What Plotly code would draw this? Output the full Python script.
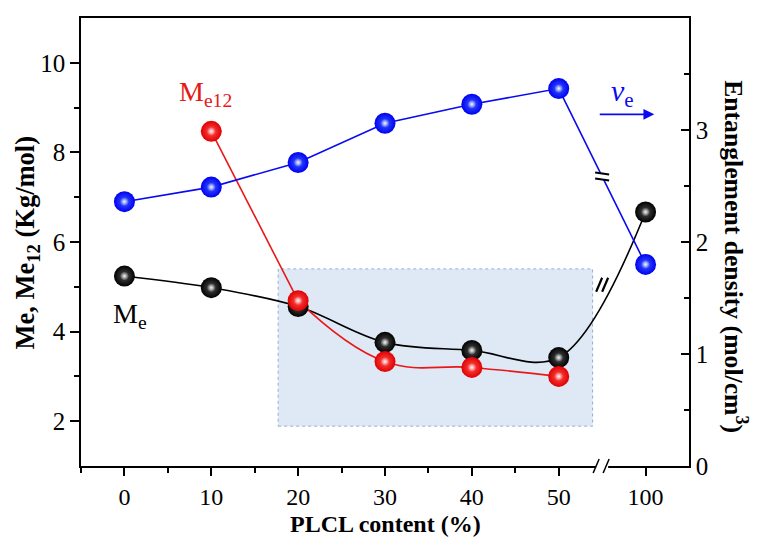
import plotly.graph_objects as go

# ---------------- data ----------------
categories = ["0", "10", "20", "30", "40", "50", "100"]
positions = [0, 1, 2, 3, 4, 5, 6]
me = [5.24, 4.98, 4.56, 3.76, 3.58, 3.42, 6.67]          # Me (Kg/mol), left axis
me12_pos = [1, 2, 3, 4, 5]
me12 = [8.47, 4.69, 3.33, 3.20, 3.00]                    # Me12 (Kg/mol), left axis
nu = [2.36, 2.49, 2.71, 3.06, 3.23, 3.37, 1.80]          # entanglement density, right axis
left_ticks = [2, 4, 6, 8, 10]
right_ticks = [0, 1, 2, 3, 4]

FONT = "Liberation Serif"
BLUE = "#0a0af0"
RED = "#e81818"
BLACK = "#000000"

fig = go.Figure()

# lines
fig.add_trace(go.Scatter(x=positions, y=me, mode="lines",
                         line=dict(color=BLACK, width=1.6, shape="spline", smoothing=1.0),
                         hoverinfo="skip"))
fig.add_trace(go.Scatter(x=me12_pos[:2], y=me12[:2], mode="lines",
                         line=dict(color=RED, width=1.6), hoverinfo="skip"))
fig.add_trace(go.Scatter(x=me12_pos[1:], y=me12[1:], mode="lines",
                         line=dict(color=RED, width=1.6, shape="spline", smoothing=1.2),
                         hoverinfo="skip"))
fig.add_trace(go.Scatter(x=positions, y=nu, mode="lines", yaxis="y2",
                         line=dict(color=BLUE, width=1.6), hoverinfo="skip"))


# sphere-like markers: body + small highlight
def balls(x, y, outer, inner, yaxis="y"):
    body = go.Scatter(x=x, y=y, mode="markers", yaxis=yaxis, hoverinfo="skip",
                      marker=dict(size=21, color=outer, line=dict(width=0),
                                  gradient=dict(type="radial", color=inner)))
    hi = go.Scatter(x=x, y=y, mode="markers", yaxis=yaxis, hoverinfo="skip",
                    marker=dict(size=9, color="rgba(255,255,255,0)", line=dict(width=0),
                                gradient=dict(type="radial", color="rgba(255,255,255,0.95)")))
    return [body, hi]


for tr in balls(positions, me, "#000000", "#505050"):
    fig.add_trace(tr)
for tr in balls(me12_pos, me12, "#e00000", "#ff5050"):
    fig.add_trace(tr)
for tr in balls(positions, nu, "#0000f0", "#3a5cff", "y2"):
    fig.add_trace(tr)

shapes = []
# shaded rectangle
shapes.append(dict(type="rect", xref="x", yref="y", x0=1.77, x1=5.39, y0=1.89, y1=5.4,
                   fillcolor="#dfe9f5", line=dict(color="#8fb0d8", width=1, dash="dot"),
                   layer="below"))

# x-axis break
shapes.append(dict(type="rect", xref="x", yref="paper", xsizemode="pixel", ysizemode="pixel",
                   xanchor=5.5, yanchor=0, x0=-6, x1=6, y0=-3, y1=3,
                   fillcolor="white", line=dict(width=0), layer="above"))
for dx in (-6, 4):
    shapes.append(dict(type="line", xref="x", yref="paper", xsizemode="pixel", ysizemode="pixel",
                       xanchor=5.5, yanchor=0, x0=dx - 3, x1=dx + 3, y0=-7, y1=7,
                       line=dict(color=BLACK, width=1.5), layer="above"))

# break on the blue line
nu_mid = (nu[5] + nu[6]) / 2
shapes.append(dict(type="rect", xref="x", yref="y2", xsizemode="pixel", ysizemode="pixel",
                   xanchor=5.5, yanchor=nu_mid, x0=-5, x1=5, y0=-2.5, y1=2.5,
                   fillcolor="white", line=dict(width=0), layer="above"))
for dy in (3, -3):
    shapes.append(dict(type="line", xref="x", yref="y2", xsizemode="pixel", ysizemode="pixel",
                       xanchor=5.5, yanchor=nu_mid, x0=-7, x1=7, y0=dy + 1, y1=dy - 1,
                       line=dict(color=BLACK, width=2), layer="above"))

# break on the black line
me_mid = (me[5] + me[6]) / 2
shapes.append(dict(type="rect", xref="x", yref="y", xsizemode="pixel", ysizemode="pixel",
                   xanchor=5.5, yanchor=me_mid, x0=-3, x1=3, y0=-3, y1=3,
                   fillcolor="white", line=dict(width=0), layer="above"))
for dx in (-3, 3):
    shapes.append(dict(type="line", xref="x", yref="y", xsizemode="pixel", ysizemode="pixel",
                       xanchor=5.5, yanchor=me_mid, x0=dx - 3, x1=dx + 3, y0=-7, y1=7,
                       line=dict(color=BLACK, width=2.2), layer="above"))

C = dict(xanchor="center", yanchor="middle", showarrow=False)
annotations = [
    dict(x=0.93, y=9.31, xref="x", yref="y", text="M<sub>e12</sub>",
         font=dict(family=FONT, size=28, color=RED), **C),
    dict(x=0.06, y=4.35, xref="x", yref="y", text="M<sub>e</sub>",
         font=dict(family=FONT, size=28, color=BLACK), **C),
    dict(x=5.74, y=3.33, xref="x", yref="y2", text="<i>ν</i><sub>e</sub>",
         font=dict(family=FONT, size=30, color=BLUE), **C),
    dict(x=6.1, y=3.14, xref="x", yref="y2", ax=-56, ay=0, text="", showarrow=True,
         arrowhead=2, arrowsize=1.2, arrowwidth=1.8, arrowcolor=BLUE),
    # axis titles
    dict(x=-0.088, y=0.50, xref="paper", yref="paper", text="<b>Me, Me<sub>12</sub> (Kg/mol)</b>",
         textangle=-90, font=dict(family=FONT, size=26.5, color=BLACK), **C),
    dict(x=1.076, y=0.468, xref="paper", yref="paper",
         text="<b>Entanglement density (mol/cm<sup>3</sup>)</b>",
         textangle=90, font=dict(family=FONT, size=25.7, color=BLACK), **C),
    dict(x=0.5, y=-0.13, xref="paper", yref="paper", text="<b>PLCL content (%)</b>",
         font=dict(family=FONT, size=24, color=BLACK), **C),
]

# the page body has an 8px margin: size the figure so the whole page fits the window
fig.update_layout(
    width=747, height=532,
    margin=dict(l=73, r=66, t=8, b=74),
    paper_bgcolor="white", plot_bgcolor="white",
    showlegend=False,
    font=dict(family=FONT, size=25, color=BLACK),
    shapes=shapes, annotations=annotations,
    xaxis=dict(range=[-0.5, 6.5], tickmode="array", tickvals=positions, ticktext=categories,
               showline=True, linecolor=BLACK, linewidth=1.6, mirror=True,
               ticks="outside", ticklen=8, tickwidth=1.5, tickcolor=BLACK,
               tickfont=dict(family=FONT, size=24),
               showgrid=False, zeroline=False,
               minor=dict(tickmode="array", tickvals=[-0.5, 0.5, 1.5, 2.5, 3.5, 4.5],
                          ticks="outside", ticklen=5, tickwidth=1.5, tickcolor=BLACK)),
    yaxis=dict(range=[1, 11], tickmode="array", tickvals=left_ticks,
               showline=True, linecolor=BLACK, linewidth=1.6,
               ticks="outside", ticklen=9, tickwidth=1.5, tickcolor=BLACK,
               tickfont=dict(family=FONT, size=25),
               showgrid=False, zeroline=False,
               minor=dict(tickmode="array", tickvals=[3, 5, 7, 9],
                          ticks="outside", ticklen=5, tickwidth=1.5, tickcolor=BLACK)),
    yaxis2=dict(range=[0, 4], overlaying="y", side="right", tickmode="array",
                tickvals=right_ticks,
                showline=True, linecolor=BLACK, linewidth=1.6,
                ticks="inside", ticklen=8, tickwidth=1.5, tickcolor=BLACK,
                tickfont=dict(family=FONT, size=25),
                showgrid=False, zeroline=False,
                minor=dict(tickmode="array", tickvals=[0.5, 1.5, 2.5, 3.5],
                           ticks="inside", ticklen=5, tickwidth=1.5, tickcolor=BLACK)),
)

fig.write_html("out.html")
